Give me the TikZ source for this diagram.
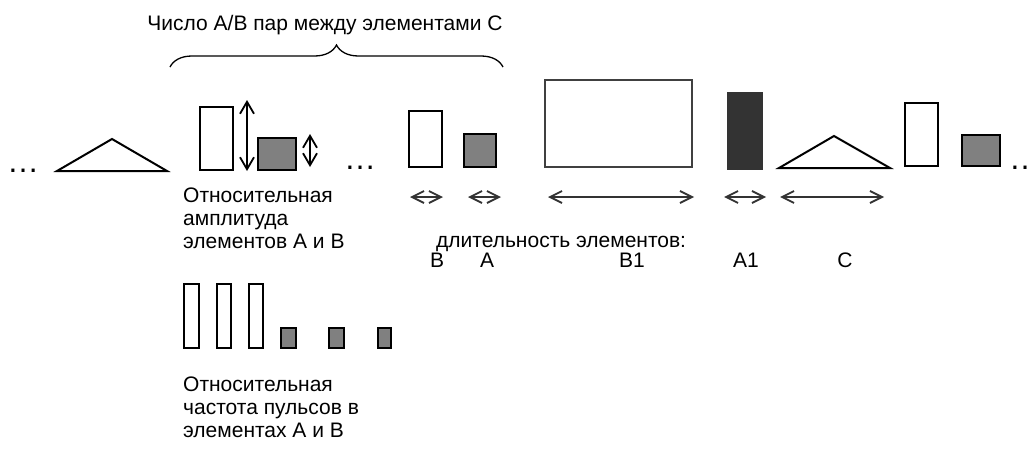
\documentclass[tikz,border=0pt]{standalone}
\usepackage{fontspec}
\setmainfont{Liberation Sans}
\usetikzlibrary{arrows.meta,decorations.pathreplacing}
\definecolor{midgray}{HTML}{808080}
\definecolor{darkfill}{HTML}{333333}
\definecolor{arrowgray}{HTML}{333333}
\begin{document}
\begin{tikzpicture}[x=1pt,y=-1pt,
  txt/.style={font=\fontsize{21}{22.8}\selectfont, inner sep=0pt, align=left},
  dots/.style={font=\fontsize{32}{36}\selectfont, inner sep=0pt, anchor=base},
  wbox/.style={draw=black, line width=2pt, fill=white, inner sep=0pt},
  gbox/.style={draw=black, line width=2pt, fill=midgray, inner sep=0pt},
  dbox/.style={draw=darkfill, line width=1pt, fill=darkfill, inner sep=0pt},
  bigbox/.style={draw=black!75, line width=2pt, fill=white, inner sep=0pt},
  tri/.style={draw=black, line width=2pt, line join=miter},
  harrow/.style={draw=arrowgray, line width=1.3pt, {Straight Barb[length=12pt,width=12pt,line width=1.8pt]}-{Straight Barb[length=12pt,width=12pt,line width=1.8pt]}},
  varrow/.style={draw=black, line width=1.3pt, {Straight Barb[length=12pt,width=14pt,line width=1.8pt]}-{Straight Barb[length=12pt,width=14pt,line width=1.8pt]}}
]
\useasboundingbox (0,0) rectangle (1031,450);

% title and brace
\node[txt, anchor=base] (title) at (325,30) {Число А/В пар между элементами С};
\coordinate (bl) at (170,67);
\coordinate (br) at (503,67);
\draw[line width=1.3pt, decorate, decoration={brace, amplitude=22pt}] (bl) -- (br);

% left part
\node[dots] (dl) at (23,172) {…};
\draw[tri] (57,171) -- (112,139) -- (167,171) -- cycle;
\node[wbox, minimum width=33pt, minimum height=63pt] (ba) at (216.5,138.5) {};
\node[gbox, minimum width=38pt, minimum height=32pt] (ga) at (276.5,154) {};
\coordinate (va1) at (247,100);
\coordinate (va2) at (247,171);
\draw[varrow] (va1) -- (va2);
\coordinate (vb1) at (310,134);
\coordinate (vb2) at (310,167);
\draw[varrow] (vb1) -- (vb2);

\node[txt, anchor=north west] (amp) at (183,188) {Относительная\\амплитуда\\элементов А и В};

% middle part
\node[dots] (dm) at (360,169) {…};
\node[wbox, minimum width=33pt, minimum height=56pt] (bb) at (425.5,139) {};
\node[gbox, minimum width=32pt, minimum height=33pt] (gb) at (480,150.5) {};
\node[bigbox, minimum width=147pt, minimum height=87pt] (b1) at (618.5,123.5) {};
\node[dbox, minimum width=35pt, minimum height=77pt] (a1) at (744.5,130.5) {};
\draw[tri] (779,168) -- (834,136) -- (890,168) -- cycle;
\node[wbox, minimum width=33pt, minimum height=63pt] (bc) at (921.5,134.5) {};
\node[gbox, minimum width=38pt, minimum height=31pt] (gc) at (981,150.5) {};
\node[dots] (dr) at (1025,169) {…};

% duration arrows
\coordinate (h1a) at (410,197); \coordinate (h1b) at (443,197);
\coordinate (h2a) at (468,197); \coordinate (h2b) at (501,197);
\coordinate (h3a) at (548,197); \coordinate (h3b) at (694,197);
\coordinate (h4a) at (724,197); \coordinate (h4b) at (766,197);
\coordinate (h5a) at (780,197); \coordinate (h5b) at (884,197);
\draw[harrow] (h1a) -- (h1b);
\draw[harrow] (h2a) -- (h2b);
\draw[harrow] (h3a) -- (h3b);
\draw[harrow] (h4a) -- (h4b);
\draw[harrow] (h5a) -- (h5b);

\node[txt, anchor=base west] (dur) at (436,247) {длительность элементов:};
\node[txt, anchor=base] (lb) at (437,267) {В};
\node[txt, anchor=base] (la) at (487,267) {А};
\node[txt, anchor=base] (lb1) at (632,267) {В1};
\node[txt, anchor=base] (la1) at (746,267) {А1};
\node[txt, anchor=base] (lc) at (845,267) {С};

% pulse frequency
\node[wbox, minimum width=15pt, minimum height=64pt] (p1) at (191.5,316) {};
\node[wbox, minimum width=14pt, minimum height=64pt] (p2) at (224,316) {};
\node[wbox, minimum width=14pt, minimum height=64pt] (p3) at (256,316) {};
\node[gbox, minimum width=15pt, minimum height=20pt] (q1) at (288.5,338) {};
\node[gbox, minimum width=15pt, minimum height=20pt] (q2) at (336.5,338) {};
\node[gbox, minimum width=13pt, minimum height=20pt] (q3) at (384.5,338) {};

\node[txt, anchor=north west] (freq) at (183,377) {Относительная\\частота пульсов в\\элементах А и В};
\end{tikzpicture}
\end{document}
